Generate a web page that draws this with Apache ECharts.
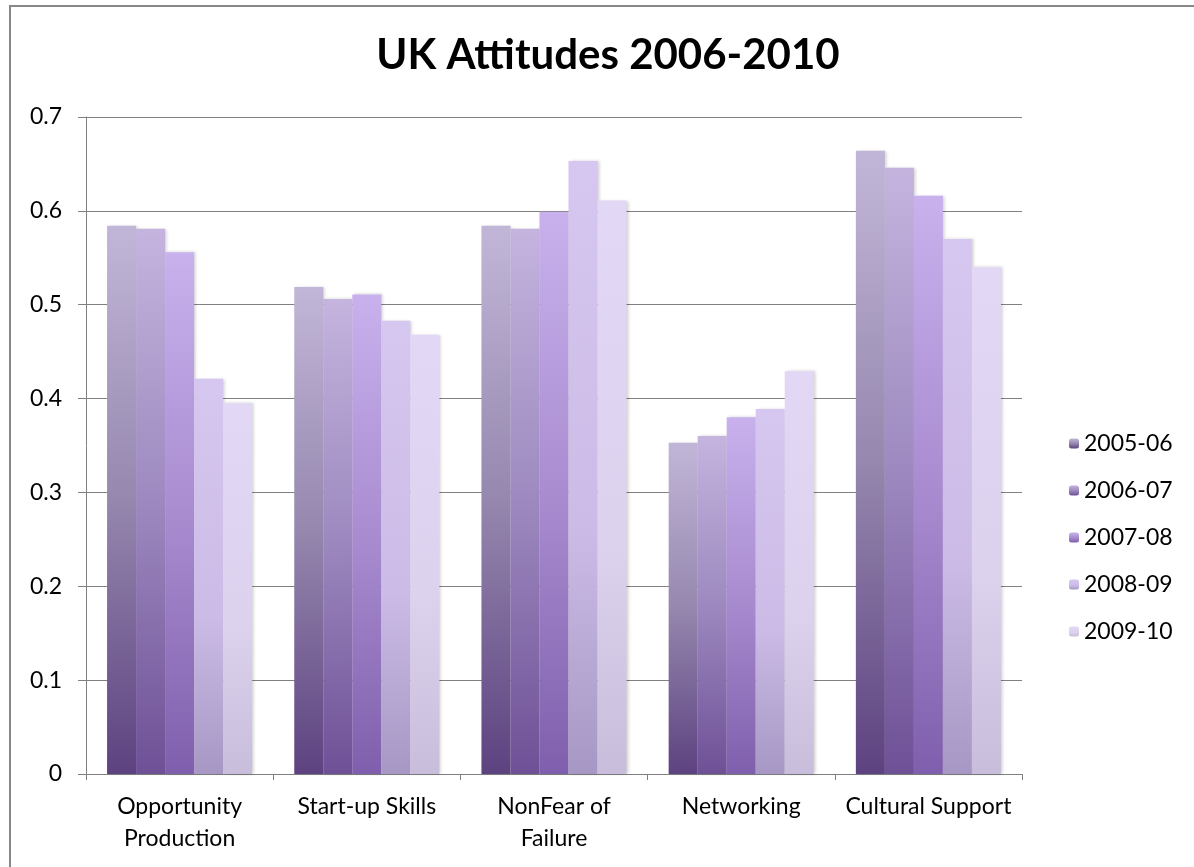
<!DOCTYPE html>
<html>
<head>
<meta charset="utf-8">
<style>
  html, body { margin: 0; padding: 0; background: #fff; }
  #main { width: 1194px; height: 867px; }
</style>
<script src="https://cdn.jsdelivr.net/npm/echarts@6/dist/echarts.min.js"></script>
</head>
<body>
<div id="main"></div>
<script>
// values
const categories = ['Opportunity\nProduction', 'Start-up Skills', 'NonFear of\nFailure', 'Networking', 'Cultural Support'];
const seriesNames = ['2005-06', '2006-07', '2007-08', '2008-09', '2009-10'];
const y0506 = [0.584, 0.519, 0.584, 0.353, 0.664];
const y0607 = [0.581, 0.506, 0.581, 0.360, 0.646];
const y0708 = [0.556, 0.511, 0.599, 0.380, 0.616];
const y0809 = [0.421, 0.483, 0.653, 0.389, 0.570];
const y0910 = [0.395, 0.468, 0.611, 0.429, 0.540];

const allValues = [y0506, y0607, y0708, y0809, y0910];

// gradient stops per series (top -> bottom)
const gradients = [
  [[0, '#c2b6d8'], [0.5, '#9587ae'], [1, '#5d4280']],
  [[0, '#c4b4de'], [0.5, '#9d89bf'], [1, '#6e5096']],
  [[0, '#c8b1ed'], [0.5, '#a98cd0'], [1, '#7f5fad']],
  [[0, '#d6c7f0'], [0.6, '#cbbbe6'], [1, '#a797c4']],
  [[0, '#e2d8f6'], [0.6, '#dcd2ee'], [1, '#c8bdda']]
];

const font = 'Lato, "Open Sans", sans-serif';

let myChart = echarts.init(document.getElementById('main'));

const series = seriesNames.map((name, i) => ({
  name: name,
  type: 'bar',
  data: allValues[i],
  barGap: '0%',
  barCategoryGap: '22.5%',
  itemStyle: {
    color: new echarts.graphic.LinearGradient(0, 0, 0, 1,
      gradients[i].map(s => ({ offset: s[0], color: s[1] }))),
    shadowColor: 'rgba(0,0,0,0.18)',
    shadowBlur: 3,
    shadowOffsetX: 2
  },
  emphasis: { disabled: true }
}));

let option = {
  animation: false,
  title: {
    text: 'UK Attitudes 2006-2010',
    left: 603,
    textAlign: 'center',
    top: 29,
    textStyle: { fontFamily: font, fontWeight: 'bold', fontSize: 42, color: '#000' }
  },
  graphic: [{
    type: 'rect',
    shape: { x: 10, y: 6, width: 1400, height: 1000 },
    style: { fill: 'none', stroke: '#888', lineWidth: 2 },
    silent: true
  }],
  legend: {
    orient: 'vertical',
    left: 1064,
    top: 427,
    itemWidth: 10,
    itemHeight: 10,
    itemGap: 24,
    data: seriesNames,
    textStyle: { fontFamily: font, fontSize: 23, color: '#000' }
  },
  grid: { left: 86, right: 172, top: 117, bottom: 93 },
  xAxis: {
    type: 'category',
    data: categories,
    axisLine: { lineStyle: { color: '#808080', width: 1 } },
    axisTick: { show: true, length: 6, lineStyle: { color: '#808080' } },
    axisLabel: {
      margin: 17,
      interval: 0,
      fontFamily: font,
      fontSize: 23,
      lineHeight: 32,
      color: '#000'
    }
  },
  yAxis: {
    type: 'value',
    min: 0,
    max: 0.7,
    interval: 0.1,
    axisLine: { show: true, lineStyle: { color: '#808080', width: 1 } },
    axisTick: { show: true, length: 8, lineStyle: { color: '#808080' } },
    splitLine: { lineStyle: { color: '#808080', width: 1 } },
    axisLabel: {
      margin: 24,
      fontFamily: font,
      fontSize: 23,
      color: '#000',
      formatter: function (v) {
        return v === 0 ? '0' : String(+v.toFixed(1));
      }
    }
  },
  series: series
};

option && myChart.setOption(option);
</script>
</body>
</html>
